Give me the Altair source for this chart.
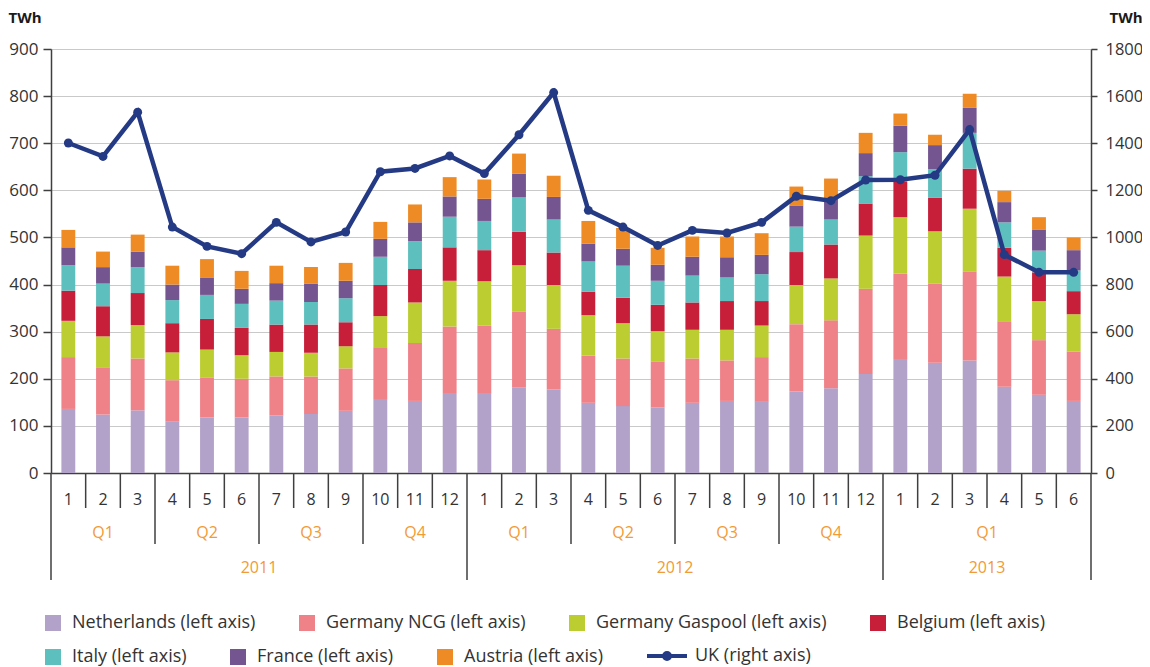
import altair as alt
import pandas as pd

FONT = "Open Sans"
TXT = "#333333"
AXIS = "#3f3f3f"
GRID = "#c9c9c9"
ORANGE = "#f29a35"
NAVY = "#243a84"

MONTHS = [f"{y}-{m:02d}" for y in (2011, 2012) for m in range(1, 13)] + [f"2013-{m:02d}" for m in range(1, 7)]

SERIES = ["Netherlands (left axis)", "Germany NCG (left axis)", "Germany Gaspool (left axis)",
          "Belgium (left axis)", "Italy (left axis)", "France (left axis)", "Austria (left axis)"]
COLORS = ["#b2a1c9", "#ef8189", "#bccd31", "#c71e39", "#5ebfbf", "#745590", "#ee8b25"]
ROW1 = SERIES[:4]
ROW2 = SERIES[4:]

NETHERLANDS = [136, 124, 133, 110, 118, 118, 122, 125, 132, 157, 153, 170,
               170, 182, 178, 149, 142, 139, 149, 153, 151, 173, 180, 210,
               242, 234, 239, 183, 166, 153]
GERMANY_NCG = [110, 99, 110, 87, 85, 82, 83, 80, 90, 110, 123, 141,
               143, 160, 128, 100, 101, 98, 94, 86, 95, 143, 144, 181,
               181, 168, 188, 139, 116, 105]
GERMANY_GASPOOL = [77, 67, 71, 59, 59, 50, 52, 50, 47, 66, 86, 97,
                   94, 99, 93, 86, 75, 64, 61, 65, 67, 83, 89, 113,
                   120, 111, 134, 95, 83, 79]
BELGIUM = [64, 64, 68, 62, 65, 58, 58, 60, 51, 66, 71, 71,
           66, 71, 69, 50, 54, 56, 58, 61, 52, 70, 72, 68,
           76, 71, 85, 61, 61, 49]
ITALY = [54, 48, 55, 49, 51, 51, 51, 48, 51, 60, 59, 65,
         62, 73, 70, 64, 68, 51, 57, 50, 57, 54, 53, 58,
         62, 61, 76, 54, 46, 44]
FRANCE = [38, 35, 33, 33, 36, 32, 37, 39, 37, 38, 40, 43,
          47, 50, 48, 38, 36, 34, 40, 43, 41, 45, 44, 49,
          56, 51, 53, 43, 45, 43]
AUSTRIA = [37, 33, 36, 40, 40, 38, 37, 35, 38, 36, 38, 41,
           41, 43, 45, 48, 44, 36, 43, 44, 46, 40, 43, 43,
           26, 22, 30, 24, 26, 27]
UK = [1401, 1344, 1532, 1044, 962, 931, 1064, 981, 1023, 1279, 1293, 1346,
      1271, 1436, 1615, 1115, 1044, 966, 1030, 1019, 1064, 1175, 1156, 1244,
      1245, 1264, 1458, 927, 852, 852]
UK_NAME = "UK (right axis)"

Q_LABELS = ["Q1", "Q2", "Q3", "Q4", "Q1", "Q2", "Q3", "Q4", "Q1"]
Q_START = [0, 3, 6, 9, 12, 15, 18, 21, 24]
Q_END = [3, 6, 9, 12, 15, 18, 21, 24, 30]
Y_LABELS = ["2011", "2012", "2013"]
Y_START = [0, 12, 24]
Y_END = [12, 24, 30]

SERIES_VALUES = [NETHERLANDS, GERMANY_NCG, GERMANY_GASPOOL, BELGIUM, ITALY, FRANCE, AUSTRIA]
rows = []
for i, p in enumerate(MONTHS):
    for k, (s, vals) in enumerate(zip(SERIES, SERIES_VALUES)):
        rows.append({"period": p, "series": s, "order": k, "value": vals[i]})
bars_df = pd.DataFrame(rows)
uk_df = pd.DataFrame({"period": MONTHS, "uk": UK, "name": UK_NAME})

year_bounds = set(Y_START + [Y_END[-1]])
quarter_bounds = set(Q_START + [Q_END[-1]])
levels = []
for p in range(len(MONTHS) + 1):
    if p in year_bounds:
        levels.append("year")
    elif p in quarter_bounds:
        levels.append("quarter")
    else:
        levels.append("month")
bounds_df = pd.DataFrame({"pos": list(range(len(MONTHS) + 1)), "level": levels})
q_df = pd.DataFrame({"label": Q_LABELS, "start": Q_START, "end": Q_END})
y_df = pd.DataFrame({"label": Y_LABELS, "start": Y_START, "end": Y_END})

W, H = 1040, 424
pos_scale = alt.Scale(domain=[0, len(MONTHS)], nice=False, zero=False)
band_scale = alt.Scale(type="band", paddingInner=0.6, paddingOuter=0.3)
left_scale = alt.Scale(domain=[0, 900], nice=False)

x_axis = alt.Axis(title=None, labelExpr="toNumber(substring(datum.value, 5))", labelAngle=0,
                  ticks=False, domain=True, domainColor=AXIS, domainWidth=1.5,
                  labelPadding=18, labelFontSize=16, labelColor=TXT, labelFont=FONT, grid=False)
left_axis = alt.Axis(values=list(range(0, 901, 100)), title="TWh", titleAngle=0, titleAlign="left",
                     titleBaseline="alphabetic", titleX=-43, titleY=-27, titleFontSize=15,
                     titleFontWeight="bold", titleColor="#1a1a1a", titleFont=FONT,
                     labelFontSize=17, labelColor=TXT, labelFont=FONT, labelPadding=5,
                     tickSize=8, tickColor=AXIS, tickWidth=1.5, domainColor=AXIS, domainWidth=1.5,
                     grid=True, gridColor=GRID, gridWidth=1.2)


def legend(x, y):
    return alt.Legend(title=None, orient="none", legendX=x, legendY=y, direction="horizontal",
                      columns=4, symbolType="square", symbolSize=256, symbolStrokeWidth=0,
                      labelOffset=10, columnPadding=42, padding=0, labelLimit=400,
                      labelFontSize=18, labelColor=TXT, labelFont=FONT)


stacked = alt.Chart(bars_df).transform_stack(
    stack="value", as_=["v0", "v1"], groupby=["period"],
    sort=[alt.SortField("order", order="ascending")],
)

bars_row1 = stacked.transform_filter(
    alt.FieldOneOfPredicate(field="series", oneOf=ROW1)
).mark_bar().encode(
    x=alt.X("period:O", sort=MONTHS, scale=band_scale, axis=x_axis),
    y=alt.Y("v0:Q", scale=left_scale, axis=left_axis),
    y2="v1:Q",
    color=alt.Color("series:N", sort=ROW1, scale=alt.Scale(domain=ROW1, range=COLORS[:4]),
                    legend=legend(-7, 565)),
)

bars_row2 = stacked.transform_filter(
    alt.FieldOneOfPredicate(field="series", oneOf=ROW2)
).mark_bar().encode(
    x=alt.X("period:O", sort=MONTHS, scale=band_scale, axis=None),
    y=alt.Y("v0:Q", scale=left_scale, axis=None),
    y2="v1:Q",
    fill=alt.Fill("series:N", sort=ROW2, scale=alt.Scale(domain=ROW2, range=COLORS[4:]),
                  legend=legend(-7, 599)),
)

line = alt.Chart(uk_df).mark_line(strokeWidth=4.5, point=alt.OverlayMarkDef(filled=True, size=80)).encode(
    x=alt.X("period:O", sort=MONTHS, scale=alt.Scale(type="point", padding=0.5), axis=None),
    y=alt.Y("uk:Q", scale=alt.Scale(domain=[0, 1800], nice=False),
            axis=alt.Axis(orient="right", values=list(range(0, 1801, 200)), format="d", title="TWh",
                          titleAngle=0, titleAlign="left", titleBaseline="alphabetic", titleX=18,
                          titleY=-27, titleFontSize=15, titleFontWeight="bold", titleColor="#1a1a1a",
                          titleFont=FONT, labelFontSize=16.5, labelColor=TXT, labelFont=FONT,
                          labelPadding=8, tickSize=6, tickColor=AXIS, tickWidth=1.5,
                          domainColor=AXIS, domainWidth=1.5, grid=False)),
    color=alt.Color("name:N", scale=alt.Scale(domain=[UK_NAME], range=[NAVY]),
                    legend=alt.Legend(title=None, orient="none", legendX=594, legendY=585,
                                      symbolType="M-1,0H1M0.15,0A0.15,0.15,0,1,1,-0.15,0A0.15,0.15,0,1,1,0.15,0Z",
                                      symbolSize=1600, symbolStrokeWidth=4, symbolFillColor=NAVY,
                                      symbolStrokeColor=NAVY, labelOffset=6, padding=0,
                                      labelFontSize=18, labelColor=TXT, labelFont=FONT)),
)


def separators(level, length):
    return alt.Chart(bounds_df).transform_filter(alt.datum.level == level).mark_rule(
        color=AXIS, strokeWidth=1.5).encode(
        x=alt.X("pos:Q", scale=pos_scale, axis=None),
        y=alt.value(H), y2=alt.value(H + length))


def group_text(df, ypix):
    return alt.Chart(df).transform_calculate(mid="(datum.start + datum.end) / 2").mark_text(
        color=ORANGE, fontSize=16, font=FONT, baseline="middle", align="center").encode(
        x=alt.X("mid:Q", scale=pos_scale, axis=None),
        y=alt.value(ypix), text="label:N")


chart = alt.layer(
    bars_row1, bars_row2, line,
    separators("month", 35), separators("quarter", 71), separators("year", 107),
    group_text(q_df, 484), group_text(y_df, 519),
).resolve_scale(
    x="independent", y="independent", color="independent", fill="independent"
).properties(
    width=W, height=H,
    autosize=alt.AutoSizeParams(type="none"),
    padding={"left": 43, "top": 41, "right": 51, "bottom": 194},
).configure_view(stroke=None).configure(font=FONT)

chart.save("out.html", embed_options={"renderer": "svg", "actions": False})
